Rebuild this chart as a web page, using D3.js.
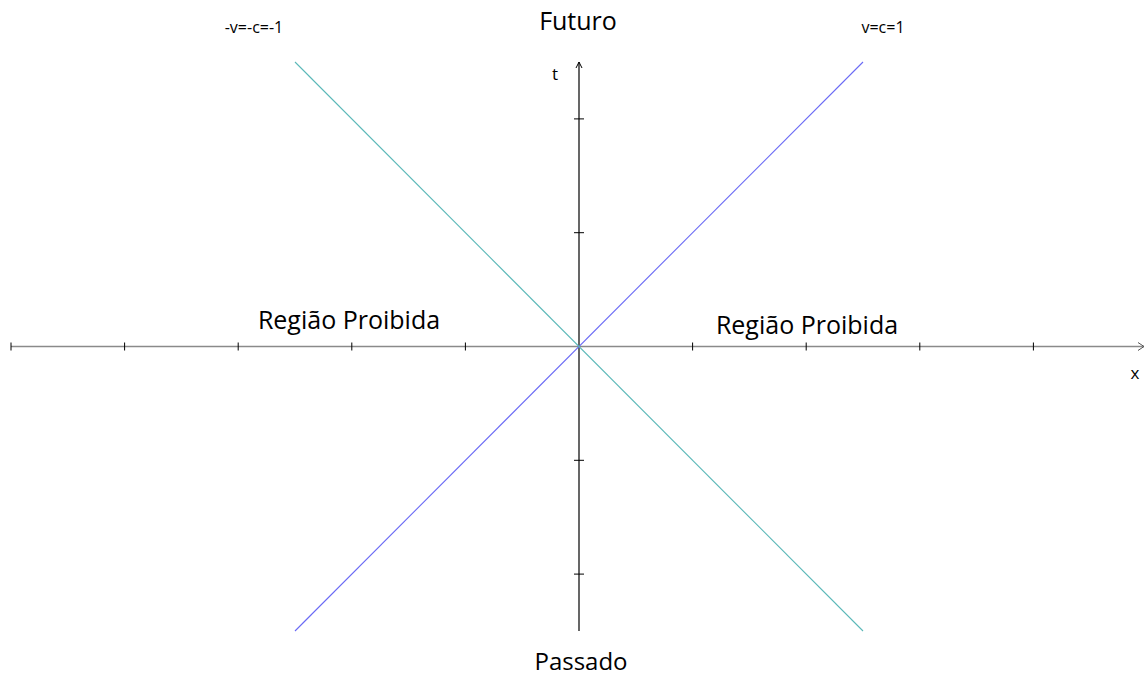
<!DOCTYPE html>
<meta charset="utf-8">
<script src="https://d3js.org/d3.v7.min.js"></script>
<style>
  body { margin: 0; background: #fff; }
  text { font-family: "Open Sans", "Noto Sans", sans-serif; fill: #000; }
</style>
<svg id="chart" width="1145" height="678"></svg>
<script>
    // axis ticks (units of c*t and x)
    var xTicks = [-5, -4, -3, -2, -1, 1, 2, 3, 4];
    var yTicks = [-2, -1, 1, 2];

    // light cone lines: v = c = 1 and v = -c = -1
    var coneX = [-2.5, 2.5];
    var slopes = [1, -1];
    var lineNames = ["v=c=1", "-v=-c=-1"];
    var lineColors = ["#6a6af5", "#5bb8b8"];

    // region labels
    var regionLabels = ["Futuro", "Passado", "Região Proibida", "Região Proibida"];

    var svg = d3.select("#chart");

    var x = d3.scaleLinear().domain([-5, 5]).range([11, 1147]);
    var y = d3.scaleLinear().domain([-2.5, 2.5]).range([631, 62]);

    // x axis (gray)
    svg.append("line")
        .attr("x1", x(-5)).attr("x2", 1144)
        .attr("y1", y(0)).attr("y2", y(0))
        .attr("stroke", "#8a8a8a").attr("stroke-width", 1.6);
    svg.append("path")
        .attr("d", "M1138," + (y(0) - 4) + " L1144," + y(0) + " L1138," + (y(0) + 4))
        .attr("fill", "none").attr("stroke", "#555").attr("stroke-width", 1);
    svg.selectAll(".xtick").data(xTicks).enter().append("line")
        .attr("x1", d => x(d)).attr("x2", d => x(d))
        .attr("y1", y(0) - 4).attr("y2", y(0) + 4)
        .attr("stroke", "#000").attr("stroke-width", 1);

    // y axis (black)
    svg.append("line")
        .attr("x1", x(0)).attr("x2", x(0))
        .attr("y1", y(-2.5)).attr("y2", y(2.5))
        .attr("stroke", "#000").attr("stroke-width", 1.2);
    svg.append("path")
        .attr("d", "M" + (x(0) - 3) + ",68 L" + x(0) + ",62 L" + (x(0) + 3) + ",68")
        .attr("fill", "none").attr("stroke", "#000").attr("stroke-width", 1);
    svg.selectAll(".ytick").data(yTicks).enter().append("line")
        .attr("x1", x(0) - 5).attr("x2", x(0) + 5)
        .attr("y1", d => y(d)).attr("y2", d => y(d))
        .attr("stroke", "#000").attr("stroke-width", 1);

    // cone lines
    var line = d3.line().x(d => x(d[0])).y(d => y(d[1]));
    slopes.forEach(function(s, i) {
        svg.append("path")
            .datum(coneX.map(v => [v, s * v]))
            .attr("d", line)
            .attr("fill", "none")
            .attr("stroke", lineColors[i])
            .attr("stroke-width", 1.1);
    });

    // line labels
    svg.append("text").attr("x", 883).attr("y", 33).attr("text-anchor", "middle")
        .style("font-size", "16px").text(lineNames[0]);
    svg.append("text").attr("x", 254).attr("y", 33).attr("text-anchor", "middle")
        .style("font-size", "16px").text(lineNames[1]);

    // axis labels
    svg.append("text").attr("x", 555).attr("y", 80).attr("text-anchor", "middle")
        .style("font-size", "17px").text("t");
    svg.append("text").attr("x", 1135).attr("y", 379).attr("text-anchor", "middle")
        .style("font-size", "17px").text("x");

    // region labels
    svg.append("text").attr("x", 578).attr("y", 30).attr("text-anchor", "middle")
        .style("font-size", "25px").text(regionLabels[0]);
    svg.append("text").attr("x", 581).attr("y", 670).attr("text-anchor", "middle")
        .style("font-size", "24px").text(regionLabels[1]);
    svg.append("text").attr("x", 349).attr("y", 329).attr("text-anchor", "middle")
        .style("font-size", "25px").text(regionLabels[2]);
    svg.append("text").attr("x", 807).attr("y", 334).attr("text-anchor", "middle")
        .style("font-size", "25px").text(regionLabels[3]);
</script>
